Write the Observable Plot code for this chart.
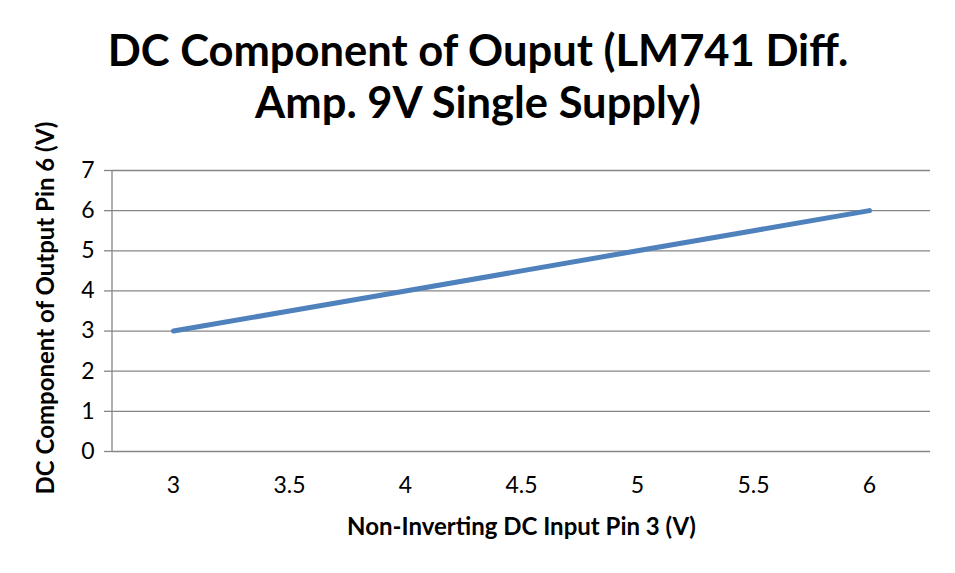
<!DOCTYPE html>
<html><head><meta charset="utf-8">
<script src="https://cdn.jsdelivr.net/npm/d3@7"></script>
<script src="https://cdn.jsdelivr.net/npm/@observablehq/plot@0.6"></script>
<style>
html,body{margin:0;padding:0;background:#fff;}
#wrap{position:relative;width:955px;height:573px;overflow:hidden;background:#fff;}
#chart{position:absolute;left:0;top:0;}
#title{position:absolute;left:0;top:0;}
</style></head><body>
<div id="wrap"><div id="chart"></div>
<svg id="title" width="955" height="150" xmlns="http://www.w3.org/2000/svg"></svg>
</div>
<script>
const titleLines = ["DC Component of Ouput (LM741 Diff.", "Amp. 9V Single Supply)"];
const xLabel = "Non-Inverting DC Input Pin 3 (V)";
const yLabel = "DC Component of Output Pin 6 (V)";
const xCategories = ["3", "3.5", "4", "4.5", "5", "5.5", "6"];
const yValues = [3, 3.5, 4, 4.5, 5, 5.5, 6];
const yTicks = [0, 1, 2, 3, 4, 5, 6, 7];

const data = xCategories.map((x, i) => ({x, y: yValues[i]}));
const gray = "#868686";
const FONT = "Lato, 'Open Sans', sans-serif";

const leftAxisLine = (index, scales, values, dims) => {
  const l = document.createElementNS("http://www.w3.org/2000/svg", "line");
  l.setAttribute("x1", dims.marginLeft);
  l.setAttribute("x2", dims.marginLeft);
  l.setAttribute("y1", dims.marginTop);
  l.setAttribute("y2", dims.height - dims.marginBottom);
  l.setAttribute("stroke", gray);
  l.setAttribute("stroke-width", 1.3);
  return l;
};

const plot = Plot.plot({
  width: 955, height: 573,
  marginTop: 170, marginLeft: 112, marginRight: 25, marginBottom: 122,
  style: {fontFamily: FONT, fontSize: "23px", color: "#000", background: "#fff"},
  x: {type: "point", domain: xCategories, padding: 0.5, label: null},
  y: {domain: [0, 7], label: null},
  marks: [
    Plot.gridY(yTicks, {stroke: gray, strokeOpacity: 1, strokeWidth: 1.3}),
    leftAxisLine,
    Plot.axisY(yTicks, {tickSize: 8, tickPadding: 10, stroke: gray, strokeWidth: 1.3, fill: "#000", fontSize: 23, label: null}),
    Plot.axisX({tickSize: 0, tickPadding: 25, fill: "#000", fontSize: 23, label: null}),
    Plot.line(data, {x: "x", y: "y", stroke: "#4F81BD", strokeWidth: 5, strokeLinecap: "round"}),
    Plot.text([xLabel], {text: d => d, frameAnchor: "bottom", dy: 76, textAnchor: "middle", lineAnchor: "middle", fontWeight: "bold", fontSize: 24, fill: "#000"}),
    Plot.text([yLabel], {text: d => d, frameAnchor: "left", dx: -66, dy: -3, rotate: -90, textAnchor: "middle", lineAnchor: "middle", fontWeight: "bold", fontSize: 24, fill: "#000"})
  ]
});
document.getElementById("chart").appendChild(plot);

// Title
const tsvg = document.getElementById("title");
const baselines = [66, 118];
const t = [];
titleLines.forEach((s, i) => {
  const e = document.createElementNS("http://www.w3.org/2000/svg", "text");
  e.setAttribute("x", 478);
  e.setAttribute("y", baselines[i]);
  e.setAttribute("text-anchor", "middle");
  e.setAttribute("font-family", FONT);
  e.setAttribute("font-weight", "bold");
  e.setAttribute("font-size", 46);
  e.setAttribute("fill", "#000");
  e.textContent = s;
  tsvg.appendChild(e);
  t.push(e);
});
const w = t[0].getComputedTextLength();
const fs = 46 * 740 / w;
t.forEach(e => e.setAttribute("font-size", fs.toFixed(1)));
</script>
</body></html>
